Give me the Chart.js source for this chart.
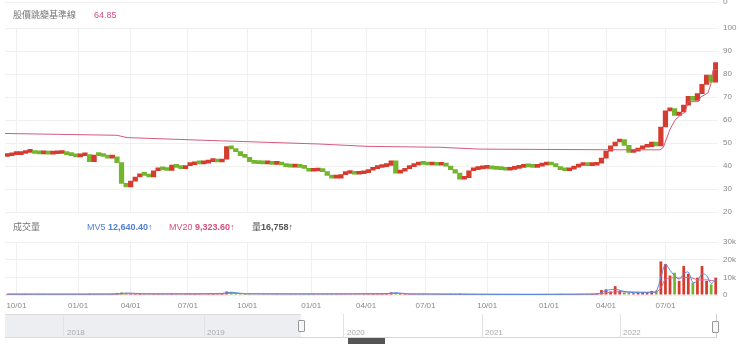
<!DOCTYPE html>
<html>
<head>
<meta charset="utf-8">
<script src="https://cdn.jsdelivr.net/npm/chart.js@4"></script>
<style>
  body { margin: 0; background: #fff; }
  #wrap { position: relative; width: 740px; height: 344px; overflow: hidden; font-family: "Liberation Sans", Arial, "Noto Sans CJK TC", sans-serif; }
  canvas { position: absolute; left: 0; }
  .txt { position: absolute; white-space: nowrap; font-size: 9px; line-height: 12px; }
  .gray { color: #777; }
  .topline { position: absolute; left: 5px; top: 2px; width: 713px; height: 1px; background: #f0f0f0; }
  .ax { position: absolute; font-size: 8px; line-height: 10px; color: #888; }
  .nav { position: absolute; top: 314px; height: 24px; }
  .sep { position: absolute; top: 314px; width: 1px; height: 24px; background: #e2e2e2; }
  .year { position: absolute; top: 328px; font-size: 8px; line-height: 10px; color: #aaa; }
  .handle { position: absolute; width: 5px; height: 10px; background: #f7f7f7; border: 1px solid #999; border-radius: 1px; }
</style>
</head>
<body>
<div id="wrap">
  <div class="topline"></div>
  <div class="ax" style="left:723px;top:-3px">0</div>

  <canvas id="price" width="740" height="222" style="top:0"></canvas>
  <canvas id="volume" width="740" height="85" style="top:230px"></canvas>

  <div class="txt gray" style="left:13px;top:9px">股價跳變基準線</div>
  <div class="txt" style="left:94px;top:9px;color:#d4507a">64.85</div>

  <div class="txt gray" style="left:13px;top:221px">成交量</div>
  <div class="txt" style="left:87px;top:221px;color:#4f7fd6">MV5 <b>12,640.40</b>↑</div>
  <div class="txt" style="left:169px;top:221px;color:#d4507a">MV20 <b>9,323.60</b>↑</div>
  <div class="txt" style="left:252px;top:221px;color:#555">量<b>16,758</b>↑</div>

  <!-- navigator -->
  <div class="nav" style="left:5px;width:296px;background:#eceef1;border-top:1px solid #dcdcdc;border-bottom:1px solid #dcdcdc;box-sizing:border-box"></div>
  <div class="nav" style="left:301px;width:416px;border-bottom:1px solid #d6d6d6;border-right:1px solid #cfcfcf;box-sizing:border-box"></div>
  <div class="sep" style="left:63px"></div>
  <div class="sep" style="left:204px"></div>
  <div class="sep" style="left:343px"></div>
  <div class="sep" style="left:482px"></div>
  <div class="sep" style="left:620px"></div>
  <div class="year" style="left:67px">2018</div>
  <div class="year" style="left:207px">2019</div>
  <div class="year" style="left:347px">2020</div>
  <div class="year" style="left:485px">2021</div>
  <div class="year" style="left:623px">2022</div>
  <div class="handle" style="left:298px;top:320px"></div>
  <div class="handle" style="left:712px;top:321px"></div>
  <div style="position:absolute;left:348px;top:338px;width:37px;height:6px;background:#555"></div>
</div>

<script>
// 週K資料 (2019/09 ~ 2022/09)
const tickPos = [2, 15.5, 27, 39.5, 52.5, 66.5, 78.5, 91.5, 105, 118.5, 131, 144]
const tickLabels = ['10/01', '01/01', '04/01', '07/01', '10/01', '01/01', '04/01', '07/01', '10/01', '01/01', '04/01', '07/01']

const firstOpen = 44.2
const closes = [
  44.5, 45, 45, 45.5, 46, 46.3, 45.5, 45.3, 45.5, 45.2,
  45.4, 45.5, 45.8, 45, 44.6, 44, 44.5, 45, 42, 44.8,
  44.6, 44.2, 43.5, 44, 41.5, 32.5, 31, 33.5, 35.3, 36.7,
  36, 35.3, 38, 38.5, 38.4, 38.1, 40.5, 39.5, 38.9, 40.2,
  40.6, 41.7, 41, 41.3, 42, 42.4, 41.8, 43, 48.5, 47.5,
  46.3, 44.6, 43.8, 42, 41.2, 41.1, 41, 41, 40.8, 40.8,
  40.5, 39.8, 39.6, 39.9, 39.5, 39, 37.8, 37.9, 38.2, 37.6,
  36, 34.8, 34.8, 36.3, 36.8, 36.8, 36.5, 36.7, 37.2, 38.2,
  38.9, 39.4, 39.8, 40.3, 42.3, 37, 37.8, 38.9, 39.8, 40.5,
  41, 40.8, 40.5, 40.6, 40.4, 40.6, 40, 38.5, 37, 34.3,
  35, 38, 38.5, 38.8, 39, 39.1, 38.8, 38.6, 38.5, 38.2,
  38.6, 39, 39.5, 39.8, 39.7, 39.5, 40, 40.5, 41.2, 40.5,
  39.8, 38.5, 38, 38.7, 39.6, 40.3, 40.3, 40.2, 40.4, 41.3,
  43.5, 46.5, 48.8, 50.5, 51.5, 49, 46, 46.5, 47.5, 48.2,
  48.5, 50.5, 48.8, 57, 64, 65, 62, 63.5, 66.5, 70.3,
  68.5, 71.5, 75.5, 79.5, 76.5, 85
]

// 股價跳變基準線
const baseIdx = [-0.5, 24, 26.2, 46.5, 53.1, 68.4, 78.7, 94.7, 103.4, 134, 142.8, 143.5, 145, 146.1, 147.2, 148.3, 149, 151.2, 151.7, 153.3, 153.9, 154.4, 155.5]
const baseVal = [54.2, 53.4, 52.4, 51, 50.6, 49.6, 48.6, 48.2, 47.4, 47.1, 47.1, 48, 56, 60, 62, 63.5, 68, 68, 70, 71.8, 75.3, 81.7, 82]

// 成交量 (千張)
const volumes = [
  0.6, 0.5, 0.4, 0.5, 0.6, 0.5, 0.4, 0.5, 0.4, 0.5,
  0.4, 0.5, 0.5, 0.4, 0.4, 0.5, 0.4, 0.5, 0.8, 0.6,
  0.5, 0.4, 0.5, 0.5, 1.2, 1.5, 1.0, 0.8, 0.6, 0.6,
  0.7, 0.5, 0.6, 0.5, 0.5, 0.4, 0.6, 0.5, 0.4, 0.5,
  0.5, 0.6, 0.5, 0.4, 0.5, 0.6, 0.5, 1.0, 2.0, 1.6,
  1.0, 0.7, 0.6, 0.5, 0.4, 0.4, 0.5, 0.4, 0.4, 0.5,
  0.4, 0.4, 0.5, 0.4, 0.4, 0.5, 0.6, 0.5, 0.4, 0.5,
  0.6, 0.7, 0.5, 0.5, 0.4, 0.4, 0.5, 0.4, 0.5, 0.5,
  0.6, 0.5, 0.6, 1.0, 1.5, 1.2, 0.7, 0.6, 0.5, 0.5,
  0.4, 0.5, 0.4, 0.4, 0.5, 0.4, 0.5, 0.8, 0.7, 0.9,
  0.6, 0.5, 0.4, 0.4, 0.5, 0.4, 0.4, 0.4, 0.5, 0.4,
  0.4, 0.5, 0.4, 0.4, 0.5, 0.4, 0.5, 0.5, 0.6, 0.5,
  0.6, 0.7, 0.5, 0.4, 0.5, 0.5, 0.4, 0.5, 0.6, 0.8,
  2.8, 3.2, 2.0, 5.0, 2.5, 1.5, 1.2, 1.0, 1.2, 1.3,
  1.5, 2.3, 2.5, 19, 17.5, 11, 12.6, 8, 16.4, 12,
  7, 9.8, 16.4, 8, 6, 9.8
]

const mvIdx = [0, 24, 26, 30, 47, 49, 52, 83, 85, 88, 129, 131, 133, 136, 141, 142, 143, 144, 145, 146, 147, 148, 149, 150, 151, 152, 153, 154, 155]
const mv5 = [0.5, 0.6, 1.1, 0.7, 0.9, 1.6, 0.7, 0.8, 1.3, 0.6, 0.6, 2.5, 3.2, 1.5, 1.6, 2.2, 10, 17.5, 14, 11, 9, 12, 13, 7, 8, 12, 11, 6.5, 8.8]
const mv20 = [0.5, 0.5, 0.7, 0.6, 0.6, 1.0, 0.7, 0.6, 0.9, 0.6, 0.5, 1.2, 1.8, 1.8, 1.5, 1.7, 4, 8.9, 9.5, 9.8, 9.6, 9.8, 10, 9.5, 8.6, 8.5, 8.6, 8.2, 8]

const UP = '#d63b2f'
const DOWN = '#74b52e'
const GRID = '#f0f0f0'
const AXIS_FONT = { family: '"Liberation Sans", Arial, sans-serif', size: 8 }

Chart.defaults.animation = false
Chart.defaults.responsive = false
Chart.defaults.devicePixelRatio = 1

const opens = closes.map((c, i) => i === 0 ? firstOpen : closes[i - 1])
const candleColors = closes.map((c, i) => c >= opens[i] ? UP : DOWN)

const xAxis = (showLabels) => ({
  type: 'linear',
  min: -0.5,
  max: closes.length - 0.5,
  offset: false,
  afterBuildTicks: (axis) => { axis.ticks = tickPos.map(v => ({ value: v })) },
  afterFit: (axis) => { axis.height = showLabels ? 20 : 0 },
  grid: { color: GRID, drawTicks: false, offset: false },
  border: { display: false },
  ticks: {
    display: showLabels,
    autoSkip: false,
    maxRotation: 0,
    padding: 6,
    color: '#888',
    font: AXIS_FONT,
    callback: (v, idx) => tickLabels[idx]
  }
})

const initPrice = () => {
  const ctx = document.getElementById('price')
  new Chart(ctx, {
    type: 'bar',
    data: {
      datasets: [{
        type: 'line',
        label: '股價跳變基準線',
        data: baseIdx.map((x, i) => ({ x: x, y: baseVal[i] })),
        borderColor: '#d45b7d',
        borderWidth: 1,
        pointRadius: 0,
        tension: 0,
        order: 0
      }, {
        label: 'K',
        data: closes.map((c, i) => ({ x: i, y: [opens[i], c] })),
        backgroundColor: candleColors,
        borderWidth: 0,
        minBarLength: 3,
        categoryPercentage: 1,
        barPercentage: 1,
        order: 1
      }]
    },
    options: {
      layout: { padding: { top: 28, bottom: 7, left: 5, right: 0 } },
      plugins: { legend: { display: false }, tooltip: { enabled: false } },
      scales: {
        x: xAxis(false),
        y: {
          position: 'right',
          min: 20,
          max: 100,
          afterFit: (axis) => { axis.width = 22 },
          grid: { color: GRID, drawTicks: false },
          border: { display: false },
          ticks: { stepSize: 10, padding: 5, color: '#888', font: AXIS_FONT }
        }
      }
    }
  })
}

const initVolume = () => {
  const ctx = document.getElementById('volume')
  new Chart(ctx, {
    type: 'bar',
    data: {
      datasets: [{
        type: 'line',
        label: 'MV5',
        data: mvIdx.map((x, i) => ({ x: x, y: mv5[i] })),
        borderColor: '#5a8be0',
        borderWidth: 1,
        pointRadius: 0,
        tension: 0.3,
        order: 0
      }, {
        type: 'line',
        label: 'MV20',
        data: mvIdx.map((x, i) => ({ x: x, y: mv20[i] })),
        borderColor: '#d9668a',
        borderWidth: 1,
        pointRadius: 0,
        tension: 0.3,
        order: 0
      }, {
        label: '量',
        data: volumes.map((v, i) => ({ x: i, y: v })),
        backgroundColor: candleColors,
        borderWidth: 0,
        categoryPercentage: 1,
        barPercentage: 0.6,
        order: 1
      }]
    },
    options: {
      layout: { padding: { top: 12, bottom: 0, left: 5, right: 0 } },
      plugins: { legend: { display: false }, tooltip: { enabled: false } },
      scales: {
        x: xAxis(true),
        y: {
          position: 'right',
          min: 0,
          max: 30,
          afterFit: (axis) => { axis.width = 22 },
          grid: { color: GRID, drawTicks: false },
          border: { display: false },
          ticks: {
            stepSize: 10, padding: 5, color: '#888', font: AXIS_FONT,
            callback: (v) => v === 0 ? '0' : v + 'k'
          }
        }
      }
    }
  })
}

initPrice()
initVolume()
</script>
</body>
</html>
